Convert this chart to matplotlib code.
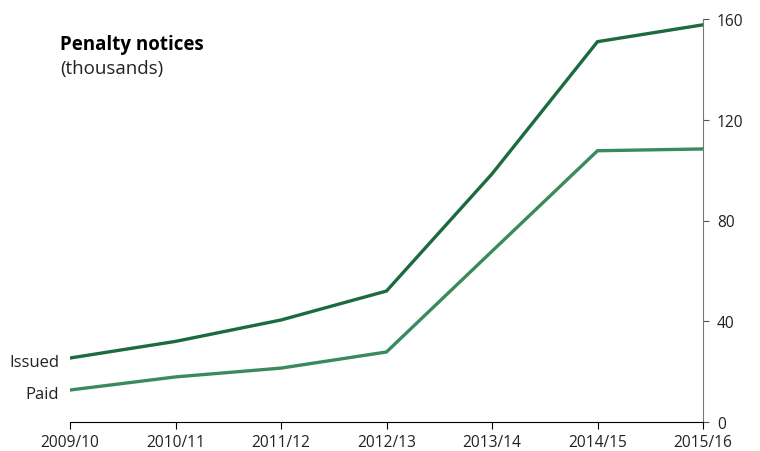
import matplotlib.pyplot as plt

plt.rcParams.update({"font.size": 11.2, "font.family": ["Open Sans", "DejaVu Sans"]})

# data (thousands)
years = ["2009/10", "2010/11", "2011/12", "2012/13", "2013/14", "2014/15", "2015/16"]
issued = [25.4, 32.0, 40.5, 52.0, 98.5, 151.0, 157.7]
paid = [12.7, 17.9, 21.4, 27.8, 67.8, 107.7, 108.4]

issued_color = "#1c6b3f"
paid_color = "#3a8a5e"

fig = plt.figure(figsize=(7.6, 4.52), dpi=100)
ax = fig.add_axes([70 / 760, 1 - 423 / 452, (703 - 70) / 760, (423 - 20) / 452])

x = list(range(len(years)))
ax.plot(x, issued, color=issued_color, lw=2.4, solid_joinstyle="miter")
ax.plot(x, paid, color=paid_color, lw=2.4, solid_joinstyle="miter")

ax.set_xlim(0, len(years) - 1)
ax.set_ylim(0, 160)
ax.set_xticks(x)
ax.set_xticklabels(years)
ax.set_yticks([0, 40, 80, 120, 160])

ax.yaxis.tick_right()
for s in ["top", "left"]:
    ax.spines[s].set_visible(False)
ax.spines["right"].set_color("#777777")
ax.spines["bottom"].set_color("black")
ax.tick_params(axis="y", length=4, color="#555555", pad=6, labelcolor="#222222")
ax.tick_params(axis="x", length=5, color="black", pad=4, labelcolor="#222222")

# series labels at left, sitting just below each line start
ax.annotate("Issued", (0, issued[0]), xytext=(-8, -3), textcoords="offset points",
            ha="right", va="center", fontsize=12, color="#222222", annotation_clip=False)
ax.annotate("Paid", (0, paid[0]), xytext=(-8, -3), textcoords="offset points",
            ha="right", va="center", fontsize=12, color="#222222", annotation_clip=False)

fig.text(60 / 760, 1 - 45 / 452, "Penalty notices", fontsize=13.5, fontweight="bold",
         ha="left", va="center", color="black")
fig.text(60 / 760, 1 - 69 / 452, "(thousands)", fontsize=13.5, ha="left", va="center",
         color="#222222")

fig.savefig("out.png", dpi=100)
